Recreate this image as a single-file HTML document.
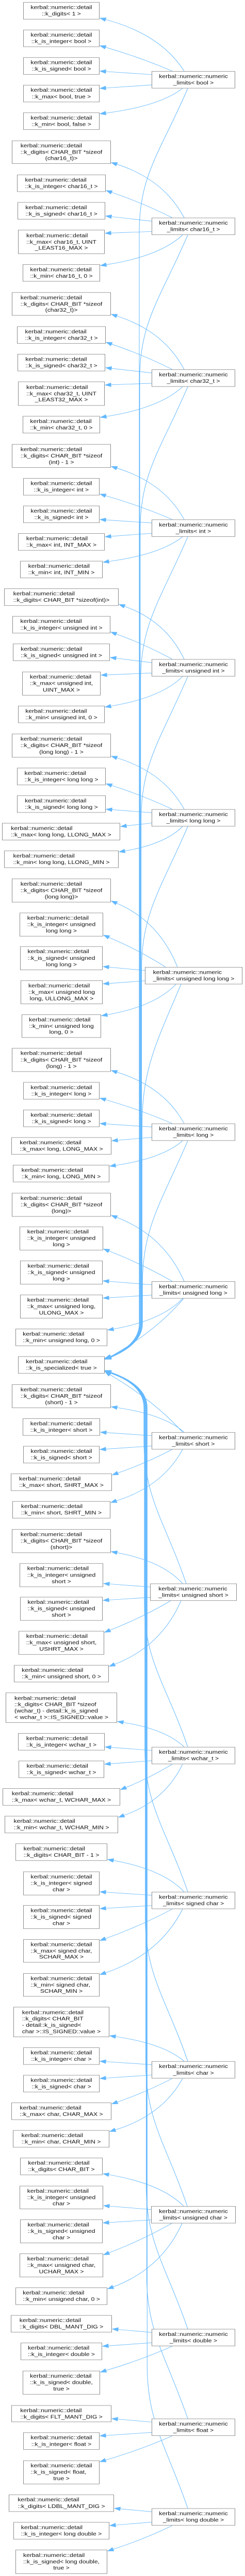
<!DOCTYPE html>
<html><head><meta charset="utf-8">
<style>
html,body{margin:0;padding:0;background:#fff;overflow:hidden}
#w{position:relative;width:475px;height:5975px;overflow:hidden;background:#fff;transform-origin:0 0}
svg{position:absolute;left:0;top:0;display:block}
.n{position:absolute;box-sizing:border-box;border:1px solid #8a8a8a;background:#fff;display:flex;align-items:center;justify-content:center;font:12.2px/14.7px "Liberation Sans",Arial,sans-serif;color:#111;white-space:nowrap;overflow:hidden}
.n>div{display:inline-block;text-align:left}
.n p{margin:0}
.n p:last-child{text-align:center}
</style></head><body><div id="w">
<svg id="s" width="475" height="5975"></svg>

<div class="n" style="left:45px;top:5px;width:148px;height:40px"><div><p>kerbal::numeric::detail</p><p>::k_digits&lt; 1 &gt;</p></div></div>
<div class="n" style="left:45px;top:69px;width:148px;height:40px"><div><p>kerbal::numeric::detail</p><p>::k_is_integer&lt; bool &gt;</p></div></div>
<div class="n" style="left:45px;top:133px;width:148px;height:40px"><div><p>kerbal::numeric::detail</p><p>::k_is_signed&lt; bool &gt;</p></div></div>
<div class="n" style="left:45px;top:197px;width:148px;height:40px"><div><p>kerbal::numeric::detail</p><p>::k_max&lt; bool, true &gt;</p></div></div>
<div class="n" style="left:45px;top:261px;width:148px;height:40px"><div><p>kerbal::numeric::detail</p><p>::k_min&lt; bool, false &gt;</p></div></div>

<div class="n" style="left:23px;top:326px;width:192px;height:54px"><div><p>kerbal::numeric::detail</p><p>::k_digits&lt; CHAR_BIT *sizeof</p><p>(char16_t)&gt;</p></div></div>
<div class="n" style="left:33px;top:405px;width:172px;height:40px"><div><p>kerbal::numeric::detail</p><p>::k_is_integer&lt; char16_t &gt;</p></div></div>
<div class="n" style="left:34px;top:469px;width:170px;height:40px"><div><p>kerbal::numeric::detail</p><p>::k_is_signed&lt; char16_t &gt;</p></div></div>
<div class="n" style="left:35px;top:533px;width:168px;height:56px"><div><p>kerbal::numeric::detail</p><p>::k_max&lt; char16_t, UINT</p><p>_LEAST16_MAX &gt;</p></div></div>
<div class="n" style="left:44px;top:613px;width:150px;height:40px"><div><p>kerbal::numeric::detail</p><p>::k_min&lt; char16_t, 0 &gt;</p></div></div>

<div class="n" style="left:23px;top:678px;width:192px;height:54px"><div><p>kerbal::numeric::detail</p><p>::k_digits&lt; CHAR_BIT *sizeof</p><p>(char32_t)&gt;</p></div></div>
<div class="n" style="left:33px;top:757px;width:172px;height:40px"><div><p>kerbal::numeric::detail</p><p>::k_is_integer&lt; char32_t &gt;</p></div></div>
<div class="n" style="left:34px;top:821px;width:170px;height:40px"><div><p>kerbal::numeric::detail</p><p>::k_is_signed&lt; char32_t &gt;</p></div></div>
<div class="n" style="left:35px;top:885px;width:168px;height:56px"><div><p>kerbal::numeric::detail</p><p>::k_max&lt; char32_t, UINT</p><p>_LEAST32_MAX &gt;</p></div></div>
<div class="n" style="left:44px;top:965px;width:150px;height:40px"><div><p>kerbal::numeric::detail</p><p>::k_min&lt; char32_t, 0 &gt;</p></div></div>

<div class="n" style="left:23px;top:1030px;width:192px;height:55px"><div><p>kerbal::numeric::detail</p><p>::k_digits&lt; CHAR_BIT *sizeof</p><p>(int) - 1 &gt;</p></div></div>
<div class="n" style="left:45px;top:1109px;width:148px;height:40px"><div><p>kerbal::numeric::detail</p><p>::k_is_integer&lt; int &gt;</p></div></div>
<div class="n" style="left:45px;top:1173px;width:148px;height:40px"><div><p>kerbal::numeric::detail</p><p>::k_is_signed&lt; int &gt;</p></div></div>
<div class="n" style="left:35px;top:1237px;width:168px;height:40px"><div><p>kerbal::numeric::detail</p><p>::k_max&lt; int, INT_MAX &gt;</p></div></div>
<div class="n" style="left:39px;top:1301px;width:160px;height:40px"><div><p>kerbal::numeric::detail</p><p>::k_min&lt; int, INT_MIN &gt;</p></div></div>

<div class="n" style="left:8px;top:1365px;width:222px;height:40px"><div><p>kerbal::numeric::detail</p><p>::k_digits&lt; CHAR_BIT *sizeof(int)&gt;</p></div></div>
<div class="n" style="left:24px;top:1429px;width:190px;height:40px"><div><p>kerbal::numeric::detail</p><p>::k_is_integer&lt; unsigned int &gt;</p></div></div>
<div class="n" style="left:25px;top:1493px;width:188px;height:40px"><div><p>kerbal::numeric::detail</p><p>::k_is_signed&lt; unsigned int &gt;</p></div></div>
<div class="n" style="left:43px;top:1558px;width:152px;height:55px"><div><p>kerbal::numeric::detail</p><p>::k_max&lt; unsigned int,</p><p>UINT_MAX &gt;</p></div></div>
<div class="n" style="left:35px;top:1637px;width:168px;height:40px"><div><p>kerbal::numeric::detail</p><p>::k_min&lt; unsigned int, 0 &gt;</p></div></div>

<div class="n" style="left:23px;top:1702px;width:192px;height:55px"><div><p>kerbal::numeric::detail</p><p>::k_digits&lt; CHAR_BIT *sizeof</p><p>(long long) - 1 &gt;</p></div></div>
<div class="n" style="left:33px;top:1781px;width:172px;height:40px"><div><p>kerbal::numeric::detail</p><p>::k_is_integer&lt; long long &gt;</p></div></div>
<div class="n" style="left:33px;top:1845px;width:172px;height:40px"><div><p>kerbal::numeric::detail</p><p>::k_is_signed&lt; long long &gt;</p></div></div>
<div class="n" style="left:4px;top:1909px;width:229px;height:40px"><div><p>kerbal::numeric::detail</p><p>::k_max&lt; long long, LLONG_MAX &gt;</p></div></div>
<div class="n" style="left:8px;top:1973px;width:222px;height:40px"><div><p>kerbal::numeric::detail</p><p>::k_min&lt; long long, LLONG_MIN &gt;</p></div></div>

<div class="n" style="left:23px;top:2038px;width:192px;height:55px"><div><p>kerbal::numeric::detail</p><p>::k_digits&lt; CHAR_BIT *sizeof</p><p>(long long)&gt;</p></div></div>
<div class="n" style="left:38px;top:2117px;width:162px;height:55px"><div><p>kerbal::numeric::detail</p><p>::k_is_integer&lt; unsigned</p><p>long long &gt;</p></div></div>
<div class="n" style="left:39px;top:2195px;width:160px;height:55px"><div><p>kerbal::numeric::detail</p><p>::k_is_signed&lt; unsigned</p><p>long long &gt;</p></div></div>
<div class="n" style="left:40px;top:2274px;width:159px;height:55px"><div><p>kerbal::numeric::detail</p><p>::k_max&lt; unsigned long</p><p>long, ULLONG_MAX &gt;</p></div></div>
<div class="n" style="left:42px;top:2353px;width:154px;height:54px"><div><p>kerbal::numeric::detail</p><p>::k_min&lt; unsigned long</p><p>long, 0 &gt;</p></div></div>

<div class="n" style="left:23px;top:2431px;width:192px;height:55px"><div><p>kerbal::numeric::detail</p><p>::k_digits&lt; CHAR_BIT *sizeof</p><p>(long) - 1 &gt;</p></div></div>
<div class="n" style="left:45px;top:2510px;width:148px;height:40px"><div><p>kerbal::numeric::detail</p><p>::k_is_integer&lt; long &gt;</p></div></div>
<div class="n" style="left:45px;top:2574px;width:148px;height:40px"><div><p>kerbal::numeric::detail</p><p>::k_is_signed&lt; long &gt;</p></div></div>
<div class="n" style="left:22px;top:2638px;width:194px;height:40px"><div><p>kerbal::numeric::detail</p><p>::k_max&lt; long, LONG_MAX &gt;</p></div></div>
<div class="n" style="left:25px;top:2702px;width:187px;height:40px"><div><p>kerbal::numeric::detail</p><p>::k_min&lt; long, LONG_MIN &gt;</p></div></div>

<div class="n" style="left:23px;top:2767px;width:192px;height:55px"><div><p>kerbal::numeric::detail</p><p>::k_digits&lt; CHAR_BIT *sizeof</p><p>(long)&gt;</p></div></div>
<div class="n" style="left:38px;top:2845px;width:162px;height:55px"><div><p>kerbal::numeric::detail</p><p>::k_is_integer&lt; unsigned</p><p>long &gt;</p></div></div>
<div class="n" style="left:39px;top:2924px;width:160px;height:55px"><div><p>kerbal::numeric::detail</p><p>::k_is_signed&lt; unsigned</p><p>long &gt;</p></div></div>
<div class="n" style="left:39px;top:3003px;width:160px;height:55px"><div><p>kerbal::numeric::detail</p><p>::k_max&lt; unsigned long,</p><p>ULONG_MAX &gt;</p></div></div>
<div class="n" style="left:30px;top:3082px;width:178px;height:40px"><div><p>kerbal::numeric::detail</p><p>::k_min&lt; unsigned long, 0 &gt;</p></div></div>

<div class="n" style="left:35px;top:3146px;width:168px;height:40px"><div><p>kerbal::numeric::detail</p><p>::k_is_specialized&lt; true &gt;</p></div></div>

<div class="n" style="left:23px;top:3211px;width:192px;height:55px"><div><p>kerbal::numeric::detail</p><p>::k_digits&lt; CHAR_BIT *sizeof</p><p>(short) - 1 &gt;</p></div></div>
<div class="n" style="left:44px;top:3290px;width:150px;height:40px"><div><p>kerbal::numeric::detail</p><p>::k_is_integer&lt; short &gt;</p></div></div>
<div class="n" style="left:45px;top:3354px;width:148px;height:40px"><div><p>kerbal::numeric::detail</p><p>::k_is_signed&lt; short &gt;</p></div></div>
<div class="n" style="left:21px;top:3418px;width:196px;height:40px"><div><p>kerbal::numeric::detail</p><p>::k_max&lt; short, SHRT_MAX &gt;</p></div></div>
<div class="n" style="left:24px;top:3482px;width:190px;height:40px"><div><p>kerbal::numeric::detail</p><p>::k_min&lt; short, SHRT_MIN &gt;</p></div></div>

<div class="n" style="left:23px;top:3547px;width:192px;height:55px"><div><p>kerbal::numeric::detail</p><p>::k_digits&lt; CHAR_BIT *sizeof</p><p>(short)&gt;</p></div></div>
<div class="n" style="left:38px;top:3626px;width:162px;height:55px"><div><p>kerbal::numeric::detail</p><p>::k_is_integer&lt; unsigned</p><p>short &gt;</p></div></div>
<div class="n" style="left:39px;top:3704px;width:160px;height:55px"><div><p>kerbal::numeric::detail</p><p>::k_is_signed&lt; unsigned</p><p>short &gt;</p></div></div>
<div class="n" style="left:36px;top:3783px;width:166px;height:55px"><div><p>kerbal::numeric::detail</p><p>::k_max&lt; unsigned short,</p><p>USHRT_MAX &gt;</p></div></div>
<div class="n" style="left:27px;top:3862px;width:184px;height:40px"><div><p>kerbal::numeric::detail</p><p>::k_min&lt; unsigned short, 0 &gt;</p></div></div>

<div class="n" style="left:11px;top:3926px;width:216px;height:70px"><div><p>kerbal::numeric::detail</p><p>::k_digits&lt; CHAR_BIT *sizeof</p><p>(wchar_t) - detail::k_is_signed</p><p>&lt; wchar_t &gt;::IS_SIGNED::value &gt;</p></div></div>
<div class="n" style="left:35px;top:4020px;width:168px;height:40px"><div><p>kerbal::numeric::detail</p><p>::k_is_integer&lt; wchar_t &gt;</p></div></div>
<div class="n" style="left:36px;top:4084px;width:166px;height:40px"><div><p>kerbal::numeric::detail</p><p>::k_is_signed&lt; wchar_t &gt;</p></div></div>
<div class="n" style="left:5px;top:4148px;width:228px;height:40px"><div><p>kerbal::numeric::detail</p><p>::k_max&lt; wchar_t, WCHAR_MAX &gt;</p></div></div>
<div class="n" style="left:9px;top:4212px;width:220px;height:40px"><div><p>kerbal::numeric::detail</p><p>::k_min&lt; wchar_t, WCHAR_MIN &gt;</p></div></div>

<div class="n" style="left:30px;top:4276px;width:178px;height:40px"><div><p>kerbal::numeric::detail</p><p>::k_digits&lt; CHAR_BIT - 1 &gt;</p></div></div>
<div class="n" style="left:45px;top:4341px;width:148px;height:55px"><div><p>kerbal::numeric::detail</p><p>::k_is_integer&lt; signed</p><p>char &gt;</p></div></div>
<div class="n" style="left:45px;top:4419px;width:148px;height:55px"><div><p>kerbal::numeric::detail</p><p>::k_is_signed&lt; signed</p><p>char &gt;</p></div></div>
<div class="n" style="left:45px;top:4498px;width:148px;height:54px"><div><p>kerbal::numeric::detail</p><p>::k_max&lt; signed char,</p><p>SCHAR_MAX &gt;</p></div></div>
<div class="n" style="left:45px;top:4577px;width:148px;height:54px"><div><p>kerbal::numeric::detail</p><p>::k_min&lt; signed char,</p><p>SCHAR_MIN &gt;</p></div></div>

<div class="n" style="left:26px;top:4655px;width:186px;height:70px"><div><p>kerbal::numeric::detail</p><p>::k_digits&lt; CHAR_BIT</p><p>- detail::k_is_signed&lt;</p><p>char &gt;::IS_SIGNED::value &gt;</p></div></div>
<div class="n" style="left:45px;top:4749px;width:148px;height:40px"><div><p>kerbal::numeric::detail</p><p>::k_is_integer&lt; char &gt;</p></div></div>
<div class="n" style="left:45px;top:4813px;width:148px;height:40px"><div><p>kerbal::numeric::detail</p><p>::k_is_signed&lt; char &gt;</p></div></div>
<div class="n" style="left:22px;top:4877px;width:194px;height:40px"><div><p>kerbal::numeric::detail</p><p>::k_max&lt; char, CHAR_MAX &gt;</p></div></div>
<div class="n" style="left:25px;top:4941px;width:187px;height:40px"><div><p>kerbal::numeric::detail</p><p>::k_min&lt; char, CHAR_MIN &gt;</p></div></div>

<div class="n" style="left:39px;top:5005px;width:160px;height:40px"><div><p>kerbal::numeric::detail</p><p>::k_digits&lt; CHAR_BIT &gt;</p></div></div>
<div class="n" style="left:38px;top:5070px;width:162px;height:54px"><div><p>kerbal::numeric::detail</p><p>::k_is_integer&lt; unsigned</p><p>char &gt;</p></div></div>
<div class="n" style="left:39px;top:5148px;width:160px;height:55px"><div><p>kerbal::numeric::detail</p><p>::k_is_signed&lt; unsigned</p><p>char &gt;</p></div></div>
<div class="n" style="left:38px;top:5227px;width:162px;height:55px"><div><p>kerbal::numeric::detail</p><p>::k_max&lt; unsigned char,</p><p>UCHAR_MAX &gt;</p></div></div>
<div class="n" style="left:30px;top:5306px;width:178px;height:40px"><div><p>kerbal::numeric::detail</p><p>::k_min&lt; unsigned char, 0 &gt;</p></div></div>

<div class="n" style="left:21px;top:5370px;width:196px;height:40px"><div><p>kerbal::numeric::detail</p><p>::k_digits&lt; DBL_MANT_DIG &gt;</p></div></div>
<div class="n" style="left:40px;top:5434px;width:158px;height:40px"><div><p>kerbal::numeric::detail</p><p>::k_is_integer&lt; double &gt;</p></div></div>
<div class="n" style="left:44px;top:5499px;width:150px;height:55px"><div><p>kerbal::numeric::detail</p><p>::k_is_signed&lt; double,</p><p>true &gt;</p></div></div>

<div class="n" style="left:22px;top:5579px;width:194px;height:39px"><div><p>kerbal::numeric::detail</p><p>::k_digits&lt; FLT_MANT_DIG &gt;</p></div></div>
<div class="n" style="left:45px;top:5642px;width:148px;height:40px"><div><p>kerbal::numeric::detail</p><p>::k_is_integer&lt; float &gt;</p></div></div>
<div class="n" style="left:45px;top:5707px;width:148px;height:55px"><div><p>kerbal::numeric::detail</p><p>::k_is_signed&lt; float,</p><p>true &gt;</p></div></div>

<div class="n" style="left:17px;top:5786px;width:204px;height:40px"><div><p>kerbal::numeric::detail</p><p>::k_digits&lt; LDBL_MANT_DIG &gt;</p></div></div>
<div class="n" style="left:26px;top:5850px;width:186px;height:40px"><div><p>kerbal::numeric::detail</p><p>::k_is_integer&lt; long double &gt;</p></div></div>
<div class="n" style="left:30px;top:5914px;width:178px;height:56px"><div><p>kerbal::numeric::detail</p><p>::k_is_signed&lt; long double,</p><p>true &gt;</p></div></div>

<div class="n" style="left:294px;top:165px;width:162px;height:40px"><div><p>kerbal::numeric::numeric</p><p>_limits&lt; bool &gt;</p></div></div>
<div class="n" style="left:294px;top:505px;width:162px;height:40px"><div><p>kerbal::numeric::numeric</p><p>_limits&lt; char16_t &gt;</p></div></div>
<div class="n" style="left:294px;top:857px;width:162px;height:40px"><div><p>kerbal::numeric::numeric</p><p>_limits&lt; char32_t &gt;</p></div></div>
<div class="n" style="left:294px;top:1205px;width:162px;height:40px"><div><p>kerbal::numeric::numeric</p><p>_limits&lt; int &gt;</p></div></div>
<div class="n" style="left:294px;top:1529px;width:162px;height:40px"><div><p>kerbal::numeric::numeric</p><p>_limits&lt; unsigned int &gt;</p></div></div>
<div class="n" style="left:294px;top:1877px;width:162px;height:40px"><div><p>kerbal::numeric::numeric</p><p>_limits&lt; long long &gt;</p></div></div>
<div class="n" style="left:281px;top:2243px;width:189px;height:40px"><div><p>kerbal::numeric::numeric</p><p>_limits&lt; unsigned long long &gt;</p></div></div>
<div class="n" style="left:294px;top:2606px;width:162px;height:40px"><div><p>kerbal::numeric::numeric</p><p>_limits&lt; long &gt;</p></div></div>
<div class="n" style="left:294px;top:2972px;width:162px;height:40px"><div><p>kerbal::numeric::numeric</p><p>_limits&lt; unsigned long &gt;</p></div></div>
<div class="n" style="left:294px;top:3322px;width:162px;height:40px"><div><p>kerbal::numeric::numeric</p><p>_limits&lt; short &gt;</p></div></div>
<div class="n" style="left:291px;top:3673px;width:168px;height:40px"><div><p>kerbal::numeric::numeric</p><p>_limits&lt; unsigned short &gt;</p></div></div>
<div class="n" style="left:294px;top:4052px;width:162px;height:40px"><div><p>kerbal::numeric::numeric</p><p>_limits&lt; wchar_t &gt;</p></div></div>
<div class="n" style="left:294px;top:4388px;width:162px;height:40px"><div><p>kerbal::numeric::numeric</p><p>_limits&lt; signed char &gt;</p></div></div>
<div class="n" style="left:294px;top:4781px;width:162px;height:40px"><div><p>kerbal::numeric::numeric</p><p>_limits&lt; char &gt;</p></div></div>
<div class="n" style="left:293px;top:5117px;width:164px;height:40px"><div><p>kerbal::numeric::numeric</p><p>_limits&lt; unsigned char &gt;</p></div></div>
<div class="n" style="left:294px;top:5402px;width:162px;height:40px"><div><p>kerbal::numeric::numeric</p><p>_limits&lt; double &gt;</p></div></div>
<div class="n" style="left:294px;top:5610px;width:162px;height:40px"><div><p>kerbal::numeric::numeric</p><p>_limits&lt; float &gt;</p></div></div>
<div class="n" style="left:294px;top:5818px;width:162px;height:40px"><div><p>kerbal::numeric::numeric</p><p>_limits&lt; long double &gt;</p></div></div>

<script>
(function(){
var C="#63b8ff";
var R=[[294,165,456,205],[294,505,456,545],[294,857,456,897],[294,1205,456,1245],[294,1529,456,1569],[294,1877,456,1917],[281,2243,470,2283],[294,2606,456,2646],[294,2972,456,3012],[294,3322,456,3362],[291,3673,459,3713],[294,4052,456,4092],[294,4388,456,4428],[294,4781,456,4821],[293,5117,457,5157],[294,5402,456,5442],[294,5610,456,5650],[294,5818,456,5858]];
var L=[
[[45,5,193,45],[45,69,193,109],[45,133,193,173],[45,197,193,237],[45,261,193,301]],
[[23,326,215,380],[33,405,205,445],[34,469,204,509],[35,533,203,589],[44,613,194,653]],
[[23,678,215,732],[33,757,205,797],[34,821,204,861],[35,885,203,941],[44,965,194,1005]],
[[23,1030,215,1085],[45,1109,193,1149],[45,1173,193,1213],[35,1237,203,1277],[39,1301,199,1341]],
[[8,1365,230,1405],[24,1429,214,1469],[25,1493,213,1533],[43,1558,195,1613],[35,1637,203,1677]],
[[23,1702,215,1757],[33,1781,205,1821],[33,1845,205,1885],[4,1909,233,1949],[8,1973,230,2013]],
[[23,2038,215,2093],[38,2117,200,2172],[39,2195,199,2250],[40,2274,199,2329],[42,2353,196,2407]],
[[23,2431,215,2486],[45,2510,193,2550],[45,2574,193,2614],[22,2638,216,2678],[25,2702,212,2742]],
[[23,2767,215,2822],[38,2845,200,2900],[39,2924,199,2979],[39,3003,199,3058],[30,3082,208,3122]],
[[23,3211,215,3266],[44,3290,194,3330],[45,3354,193,3394],[21,3418,217,3458],[24,3482,214,3522]],
[[23,3547,215,3602],[38,3626,200,3681],[39,3704,199,3759],[36,3783,202,3838],[27,3862,211,3902]],
[[11,3926,227,3996],[35,4020,203,4060],[36,4084,202,4124],[5,4148,233,4188],[9,4212,229,4252]],
[[30,4276,208,4316],[45,4341,193,4396],[45,4419,193,4474],[45,4498,193,4552],[45,4577,193,4631]],
[[26,4655,212,4725],[45,4749,193,4789],[45,4813,193,4853],[22,4877,216,4917],[25,4941,212,4981]],
[[39,5005,199,5045],[38,5070,200,5124],[39,5148,199,5203],[38,5227,200,5282],[30,5306,208,5346]],
[[21,5370,217,5410],[40,5434,198,5474],[44,5499,194,5554]],
[[22,5579,216,5618],[45,5642,193,5682],[45,5707,193,5762]],
[[17,5786,221,5826],[26,5850,212,5890],[30,5914,208,5969]]];
var s=document.getElementById("s"),out="";
function cl(v,a,b){return Math.max(a,Math.min(b,v));}
function arrow(cx,cy,ex,ey){var dx=ex-cx,dy=ey-cy,l=Math.sqrt(dx*dx+dy*dy)||1;dx/=l;dy/=l;
 var bx=ex-dx*11,by=ey-dy*11,px=-dy*4.2,py=dx*4.2;
 out+='<polygon fill="'+C+'" stroke="'+C+'" points="'+ex+','+ey+' '+(bx+px)+','+(by+py)+' '+(bx-px)+','+(by-py)+'"/>';
 return [ex-dx*10,ey-dy*10];}
function path(d){out+='<path d="'+d+'" fill="none" stroke="'+C+'" stroke-width="1"/>';}
for(var g=0;g<R.length;g++){var r=R[g],rcy=(r[1]+r[3])/2,kids=L[g],n=kids.length;
 for(var k=0;k<n;k++){var c=kids[k],ccy=(c[1]+c[3])/2,sx,sy,ex,ey,cx,cy;
  if(c[3]<r[1]-6){sx=r[0]+(k==0?63:40);sy=r[1];ex=c[2]+1;ey=c[3]-3;
   cx=ex+(sx-ex)*(k==0?0.72:0.55);cy=ey+(sy-ey)*(k==0?0.3:0.45);}
  else if(c[1]>r[3]+6){sx=r[0]+(k==n-1&&n==5?60:40);sy=r[3];ex=c[2]+1;ey=c[1]+3;
   cx=ex+(sx-ex)*(k==n-1&&n==5?0.72:0.55);cy=ey+(sy-ey)*(k==n-1&&n==5?0.3:0.45);}
  else{sx=r[0];sy=cl(ccy,r[1]+8,r[3]-8);ex=c[2]+1;ey=cl(rcy,c[1]+8,c[3]-8);cx=(sx+ex)/2;cy=(sy+ey)/2;}
  var b=arrow(cx,cy,ex,ey);
  path('M'+sx+','+sy+' Q'+cx+','+cy+' '+b[0]+','+b[1]);
 }
 var vx=270+g*0.9,hx=204,sx2=r[0]+70;
 if(r[3]<3146){var sy2=r[3],ty=3150+g*0.4;
  if(3146-sy2>300){var b2=arrow(vx-8,3128,hx,ty);
   path('M'+sx2+','+sy2+' C'+(sx2-50)+','+(sy2+140)+' '+vx+','+(sy2+200)+' '+vx+','+(sy2+330)+' L'+vx+',3070 Q'+vx+',3118 '+b2[0]+','+b2[1]);}
  else{var b3=arrow(300,3090,hx,ty);path('M'+(sx2-8)+','+sy2+' Q300,3090 '+b3[0]+','+b3[1]);}
 } else {var sy3=r[1],ty2=3182-(g-9)*0.4;
  if(sy3-3186>300){var b4=arrow(vx-8,3205,hx,ty2);
   path('M'+sx2+','+sy3+' C'+(sx2-40)+','+(sy3-140)+' '+vx+','+(sy3-200)+' '+vx+','+(sy3-330)+' L'+vx+',3265 Q'+vx+',3212 '+b4[0]+','+b4[1]);}
  else{var b5=arrow(300,3250,hx,ty2);path('M'+(sx2-10)+','+sy3+' Q300,3250 '+b5[0]+','+b5[1]);}
 }
}
s.innerHTML=out;
// fit into the actual viewport (renderer may capture a shorter viewport and stretch it)
var vw=window.innerWidth||document.documentElement.clientWidth||475;
var vh=window.innerHeight||document.documentElement.clientHeight||5975;
var sx=(vw>0&&vw<474)?vw/475:1, sy=(vh>0&&vh<5970)?vh/5975:1;
var w=document.getElementById("w");
if(sx!==1||sy!==1){w.style.transform="scale("+sx+","+sy+")";}
document.body.style.width=(475*sx)+"px";document.body.style.height=(5975*sy)+"px";
document.documentElement.style.height=(5975*sy)+"px";
})();
</script>
</div></body></html>
